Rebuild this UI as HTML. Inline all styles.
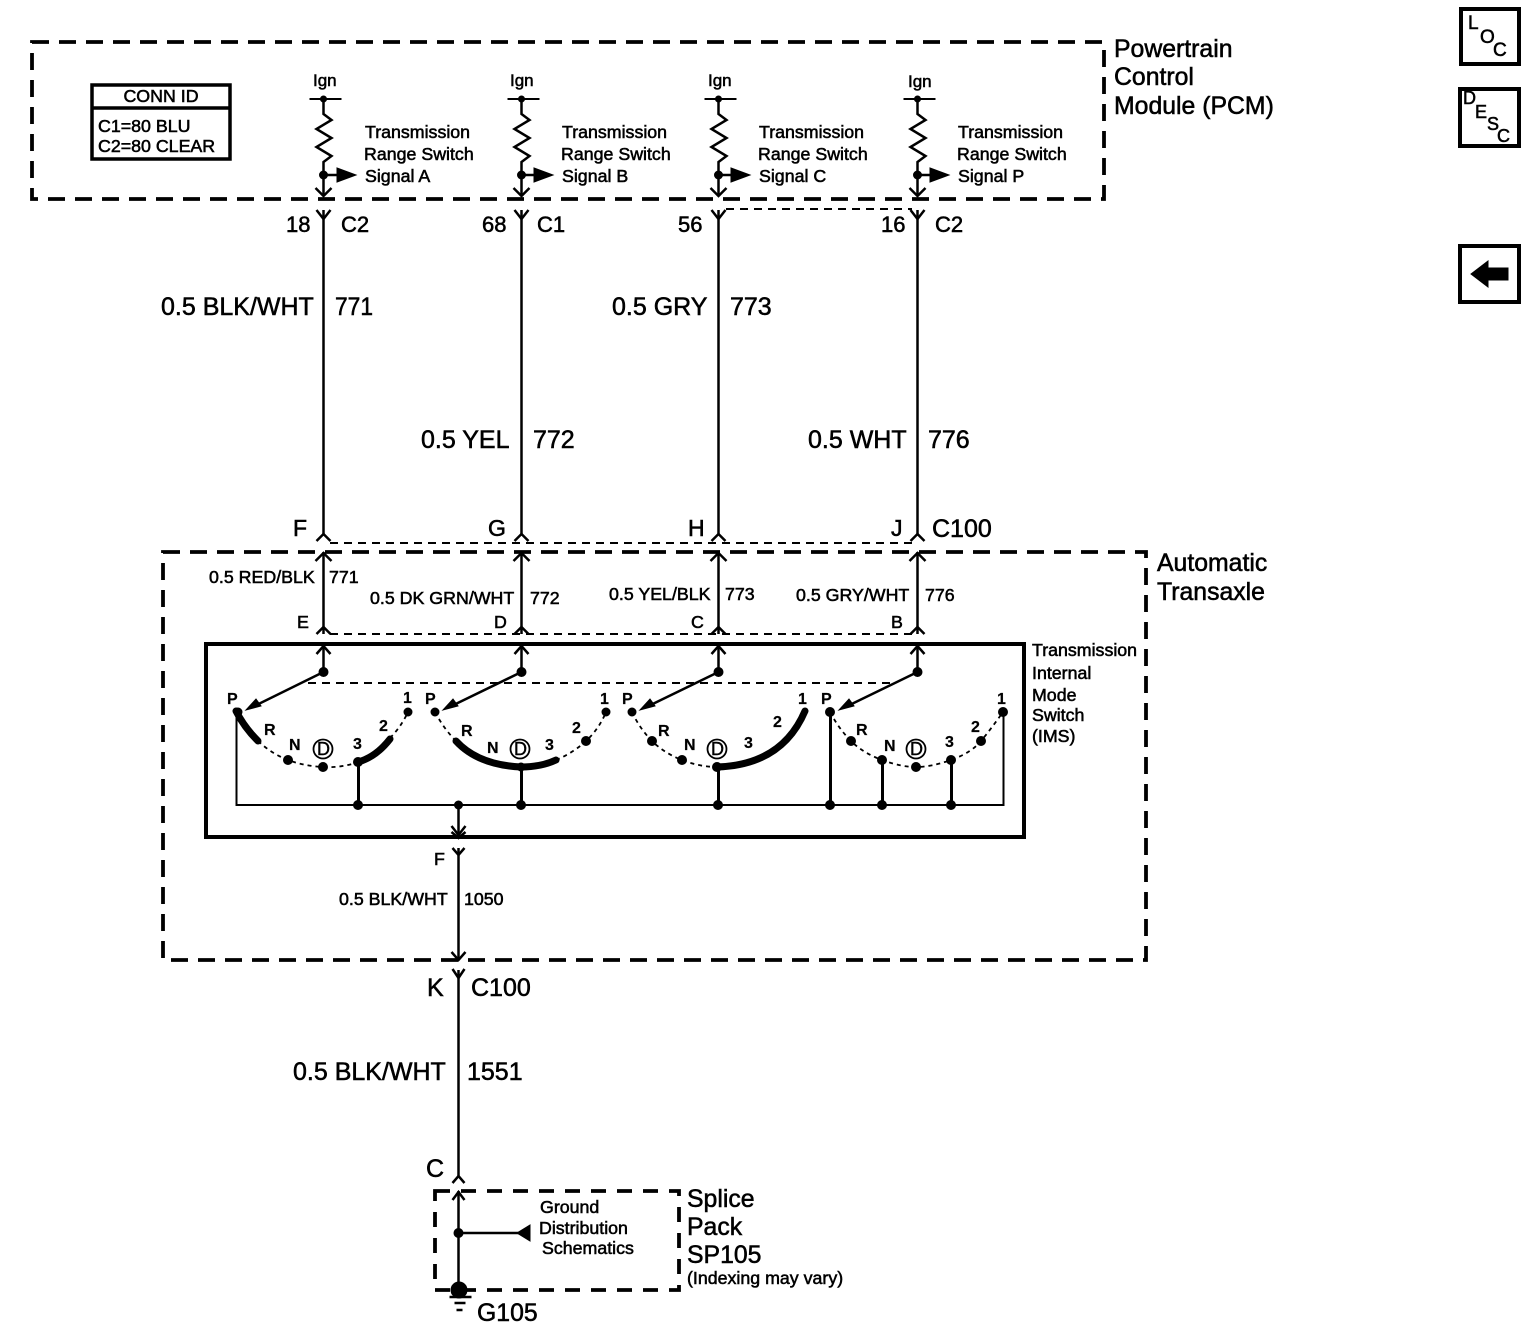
<!DOCTYPE html>
<html><head><meta charset="utf-8"><style>
html,body{margin:0;padding:0;background:#fff}
svg{display:block}
text{font-family:"Liberation Sans",sans-serif;fill:#000;stroke:#000;stroke-width:.55}
.b{font-size:25px}.m{font-size:17.8px}.s{font-size:17.8px}.l{font-size:24.8px}.k{font-size:16px;font-weight:bold;stroke-width:.2}.g{font-size:17px}.d{font-size:18px;stroke-width:.4}.p{font-size:22px}.h{font-size:23px}
</style></head><body>
<svg width="1536" height="1332" viewBox="0 0 1536 1332" xmlns="http://www.w3.org/2000/svg">
<g fill="none" stroke="#000">
<!-- dashed module boxes -->
<g stroke-width="3.800" stroke-dasharray="17 10">
<rect x="32" y="42" width="1072" height="157"/>
<rect x="163" y="552" width="983" height="408"/>
<rect x="435" y="1191" width="244" height="99" stroke-dasharray="15 11"/>
</g>
<!-- thin dashed connector ties -->
<g stroke-width="2" stroke-dasharray="8 6">
<path d="M726 209H912"/>
<path d="M330 543H912"/>
<path d="M330 634H912"/>
<path d="M308 683H895"/>
</g>
<!-- IMS and conn boxes -->
<rect x="206" y="644" width="818" height="193" stroke-width="4"/>
<rect x="92" y="85" width="138" height="74" stroke-width="3.500"/>
<path d="M92 108H230" stroke-width="3.500"/>
<!-- side icons -->
<rect x="1461" y="9" width="58" height="55" stroke-width="4"/>
<rect x="1460" y="89" width="59" height="57" stroke-width="4"/>
<rect x="1460" y="246" width="59" height="56" stroke-width="4"/>
<!-- vertical wires -->
<g stroke-width="2.500" transform="translate(.5 0)">
<path d="M323 210V534M521 210V534M718 210V534M917 210V534"/>
<path d="M323 552V634M521 552V634M718 552V634M917 552V634"/>
<path d="M323 646V672M521 646V672M718 646V672M917 646V672"/>
<path d="M323 100V114l8 6-15 9 15 9-15 9 15 9-8 6V196"/>
<path d="M521 100V114l8 6-15 9 15 9-15 9 15 9-8 6V196"/>
<path d="M718 100V114l8 6-15 9 15 9-15 9 15 9-8 6V196"/>
<path d="M917 100V114l8 6-15 9 15 9-15 9 15 9-8 6V196"/>
<path d="M309 99H341M507 99H539M704 99H736M903 99H935" stroke-width="2"/>
<path d="M323 175H340M521 175H538M718 175H735M917 175H934"/>
<path d="M315 188l8 8 8-8M513 188l8 8 8-8M710 188l8 8 8-8M909 188l8 8 8-8"/>
<path d="M316 210l7 9 7-9M514 210l7 9 7-9M711 210l7 9 7-9M910 210l7 9 7-9"/>
<path d="M316 541l7-7 7 7M514 541l7-7 7 7M711 541l7-7 7 7M910 541l7-7 7 7"/>
<path d="M315 561l8-8 8 8M513 561l8-8 8 8M710 561l8-8 8 8M909 561l8-8 8 8"/>
<path d="M316 634l7-7 7 7M514 634l7-7 7 7M711 634l7-7 7 7M910 634l7-7 7 7"/>
<path d="M316 654l7-8 7 8M514 654l7-8 7 8M711 654l7-8 7 8M910 654l7-8 7 8"/>
<path d="M323 672L252 707M521 672L449 707M718 672L646 707M917 672L845 707"/>
<path d="M236 712V805H1003V712" stroke-width="2"/>
<path d="M358 762V805M521 767V805M718 767V805M830 712V805M882 760V805M951 760V805" stroke-width="3"/>
<path d="M458 805V836M458 848V959M458 970V1176M458 1191V1290"/>
<path d="M451 826l7 9 7-9M451 832l7 6 7-6M452 848l6 7 6-7M451 952l7 8 7-8M452 969l6 9 6-9M452 1183l6-7 6 7M452 1200l6-8 6 8"/>
<path d="M458 1233H518"/>
<path d="M449 1297H471M454 1303H465M456 1310H462"/>
</g>
<!-- dotted arcs -->
<g fill="none" stroke="#000" stroke-width="1.800" stroke-dasharray="4 4">
<path d="M258 741Q272 754 288 760T323 767T358 762"/>
<path d="M390 738Q401 727 408 712"/>
<path d="M435 712Q444 729 456 741"/>
<path d="M556 760Q573 753 586 741T606 712"/>
<path d="M632 712Q640 729 652 741T682 760T717 767"/>
<path d="M830 712Q839 729 851 741T882 760T916 767T951 760T981 741T1003 712"/>
</g>
<!-- thick arcs -->
<g fill="none" stroke="#000" stroke-width="7" stroke-linecap="round">
<path d="M236 711Q244 727 258 741"/>
<path d="M358 762Q376 757 390 739"/>
<path d="M456 741Q478 765 521 767Q541 767 556 760"/>
<path d="M717 767Q782 765 805 711"/>
</g>
<!-- dots -->
<g fill="#000">
<circle cx="323.500" cy="99" r="3"/><circle cx="521.500" cy="99" r="3"/><circle cx="718.500" cy="99" r="3"/><circle cx="917.500" cy="99" r="3"/>
<circle cx="323.500" cy="175" r="4"/><circle cx="521.500" cy="175" r="4"/><circle cx="718.500" cy="175" r="4"/><circle cx="917.500" cy="175" r="4"/>
<path d="M337 168L356 175L337 182ZM534 168L553 175L534 182ZM731 168L750 175L731 182ZM930 168L949 175L930 182Z"/>
<circle cx="323.500" cy="672" r="4.500"/><circle cx="521.500" cy="672" r="4.500"/><circle cx="718.500" cy="672" r="4.500"/><circle cx="917.500" cy="672" r="4.500"/>
<path d="M246 710L256 699L261 706ZM443 710L453 699L458 706ZM640 710L650 699L655 706ZM839 710L849 699L854 706Z"/>
<circle cx="238" cy="712" r="4"/><circle cx="288" cy="760" r="4.500"/><circle cx="323" cy="767" r="4.500"/><circle cx="358" cy="762" r="4.500"/><circle cx="408" cy="712" r="4"/>
<circle cx="435" cy="712" r="4"/><circle cx="521" cy="767" r="4"/><circle cx="586" cy="741" r="4.500"/><circle cx="606" cy="712" r="4"/>
<circle cx="632" cy="712" r="4"/><circle cx="652" cy="741" r="4.500"/><circle cx="682" cy="760" r="4.500"/><circle cx="717" cy="767" r="4.500"/>
<circle cx="830" cy="712" r="4.500"/><circle cx="851" cy="741" r="4.500"/><circle cx="882" cy="760" r="4.500"/><circle cx="916" cy="767" r="4.500"/><circle cx="951" cy="760" r="4.500"/><circle cx="981" cy="741" r="4.500"/><circle cx="1003" cy="712" r="4.500"/>
<circle cx="358" cy="805" r="4.500"/><circle cx="458.500" cy="805" r="4"/><circle cx="521" cy="805" r="4.500"/><circle cx="718" cy="805" r="4.500"/><circle cx="830" cy="805" r="4.500"/><circle cx="882" cy="805" r="4.500"/><circle cx="951" cy="805" r="4.500"/>
<circle cx="458.500" cy="1233" r="4.500"/><circle cx="459" cy="1290" r="8"/>
<path d="M530 1225V1241L517 1233Z"/>
<path d="M1471 274L1488 261V268H1508V280H1488V287Z"/>
</g>
<g fill="none" stroke="#000" stroke-width="1.800">
<circle cx="323" cy="749" r="9.500"/><circle cx="520" cy="749" r="9.500"/><circle cx="717" cy="749" r="9.500"/><circle cx="916" cy="749" r="9.500"/>
</g>
<!-- module labels -->
<text class="l" x="1114" y="57">Powertrain</text>
<text class="l" x="1114" y="85">Control</text>
<text class="l" x="1114" y="114">Module (PCM)</text>
<text class="l" x="1157" y="571">Automatic</text>
<text class="l" x="1157" y="600">Transaxle</text>
<text class="l" x="687" y="1207">Splice</text>
<text class="l" x="687" y="1235">Pack</text>
<text class="l" x="687" y="1263">SP105</text>
<text class="s" x="687" y="1284">(Indexing may vary)</text>
<text class="l" x="477" y="1321">G105</text>
<text class="s" x="161" y="102" text-anchor="middle">CONN ID</text>
<text class="s" x="98" y="132">C1=80 BLU</text>
<text class="s" x="98" y="152">C2=80 CLEAR</text>
<!-- signal labels -->
<text class="g" x="313" y="86">Ign</text><text class="g" x="510" y="86">Ign</text><text class="g" x="708" y="86">Ign</text><text class="g" x="908" y="87">Ign</text>
<text class="m" x="365" y="138">Transmission</text><text class="m" x="364" y="160">Range Switch</text><text class="m" x="365" y="182">Signal A</text>
<text class="m" x="562" y="138">Transmission</text><text class="m" x="561" y="160">Range Switch</text><text class="m" x="562" y="182">Signal B</text>
<text class="m" x="759" y="138">Transmission</text><text class="m" x="758" y="160">Range Switch</text><text class="m" x="759" y="182">Signal C</text>
<text class="m" x="958" y="138">Transmission</text><text class="m" x="957" y="160">Range Switch</text><text class="m" x="958" y="182">Signal P</text>
<!-- pin labels -->
<text class="p" x="286" y="232">18</text><text class="p" x="341" y="232">C2</text>
<text class="p" x="482" y="232">68</text><text class="p" x="537" y="232">C1</text>
<text class="p" x="678" y="232">56</text><text class="p" x="881" y="232">16</text><text class="p" x="935" y="232">C2</text>
<text class="b" x="161" y="315">0.5 BLK/WHT</text><text class="b" x="335" y="315" textLength="38" lengthAdjust="spacingAndGlyphs">771</text>
<text class="b" x="612" y="315">0.5 GRY</text><text class="b" x="730" y="315">773</text>
<text class="b" x="421" y="448">0.5 YEL</text><text class="b" x="533" y="448">772</text>
<text class="b" x="808" y="448">0.5 WHT</text><text class="b" x="928" y="448">776</text>
<text class="h" x="293" y="536">F</text><text class="h" x="488" y="536">G</text><text class="h" x="688" y="536">H</text><text class="h" x="891" y="536">J</text>
<text class="b" x="932" y="537">C100</text>
<text class="s" x="209" y="583">0.5 RED/BLK</text><text class="s" x="329" y="583">771</text>
<text class="s" x="370" y="604">0.5 DK GRN/WHT</text><text class="s" x="530" y="604">772</text>
<text class="s" x="609" y="600">0.5 YEL/BLK</text><text class="s" x="725" y="600">773</text>
<text class="s" x="796" y="601">0.5 GRY/WHT</text><text class="s" x="925" y="601">776</text>
<text class="s" x="297" y="628">E</text><text class="s" x="494" y="628">D</text><text class="s" x="691" y="628">C</text><text class="s" x="891" y="628">B</text>
<text class="s" x="1032" y="656">Transmission</text><text class="s" x="1032" y="679">Internal</text><text class="s" x="1032" y="701">Mode</text><text class="s" x="1032" y="721">Switch</text><text class="s" x="1032" y="742">(IMS)</text>
<text class="s" x="434" y="865">F</text>
<text class="s" x="339" y="905">0.5 BLK/WHT</text><text class="s" x="464" y="905">1050</text>
<text class="b" x="427" y="996">K</text><text class="b" x="471" y="996">C100</text>
<text class="b" x="293" y="1080">0.5 BLK/WHT</text><text class="b" x="467" y="1080">1551</text>
<text class="b" x="426" y="1177">C</text>
<text class="s" x="540" y="1213">Ground</text><text class="s" x="539" y="1234">Distribution</text><text class="s" x="542" y="1254">Schematics</text>
<!-- switch labels -->
<text class="k" x="227" y="704">P</text><text class="k" x="264" y="735">R</text><text class="k" x="289" y="750">N</text><text class="d" x="317" y="755">D</text><text class="k" x="353" y="749">3</text><text class="k" x="379" y="731">2</text><text class="k" x="403" y="703">1</text>
<text class="k" x="425" y="704">P</text><text class="k" x="461" y="736">R</text><text class="k" x="487" y="753">N</text><text class="d" x="514" y="755">D</text><text class="k" x="545" y="750">3</text><text class="k" x="572" y="733">2</text><text class="k" x="600" y="704">1</text>
<text class="k" x="622" y="704">P</text><text class="k" x="658" y="736">R</text><text class="k" x="684" y="750">N</text><text class="d" x="711" y="755">D</text><text class="k" x="744" y="748">3</text><text class="k" x="773" y="727">2</text><text class="k" x="798" y="704">1</text>
<text class="k" x="821" y="704">P</text><text class="k" x="856" y="735">R</text><text class="k" x="884" y="751">N</text><text class="d" x="910" y="755">D</text><text class="k" x="945" y="747">3</text><text class="k" x="971" y="732">2</text><text class="k" x="997" y="704">1</text>
<!-- icons -->
<text style="font-size:19px" x="1468" y="29">L</text><text style="font-size:19px" x="1480" y="43">O</text><text style="font-size:19px" x="1493" y="56">C</text>
<text style="font-size:18px" x="1463" y="104">D</text><text style="font-size:18px" x="1475" y="118">E</text><text style="font-size:18px" x="1487" y="130">S</text><text style="font-size:18px" x="1497" y="142">C</text>
</svg>
</body></html>
